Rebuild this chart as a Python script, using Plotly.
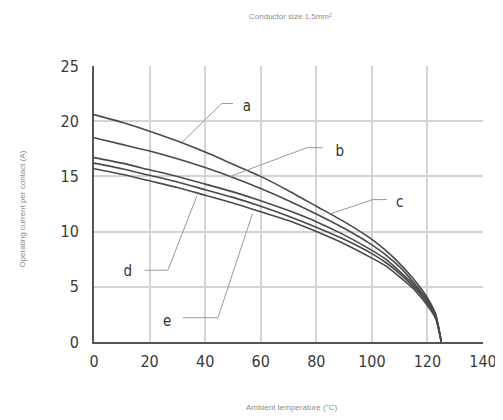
import plotly.graph_objects as go

temps = [0, 10, 20, 30, 40, 50, 60, 70, 80, 90, 100, 105, 110, 115, 120, 123, 125]
curve_a = [20.6, 19.9, 19.1, 18.2, 17.2, 16.1, 15.0, 13.7, 12.3, 10.9, 9.3, 8.3, 7.1, 5.7, 4.0, 2.5, 0]
curve_b = [18.5, 17.9, 17.3, 16.6, 15.8, 14.9, 13.9, 12.8, 11.6, 10.3, 8.8, 7.9, 6.8, 5.4, 3.8, 2.4, 0]
curve_c = [16.7, 16.2, 15.6, 15.0, 14.3, 13.6, 12.8, 11.9, 10.9, 9.7, 8.3, 7.5, 6.4, 5.2, 3.6, 2.3, 0]
curve_d = [16.2, 15.7, 15.1, 14.5, 13.8, 13.1, 12.3, 11.4, 10.4, 9.3, 8.0, 7.2, 6.2, 5.0, 3.5, 2.2, 0]
curve_e = [15.7, 15.2, 14.6, 14.0, 13.3, 12.6, 11.8, 11.0, 10.0, 8.9, 7.6, 6.9, 5.9, 4.8, 3.3, 2.1, 0]
curves = {"a": curve_a, "b": curve_b, "c": curve_c, "d": curve_d, "e": curve_e}

# label leader lines (data coords) and label anchors
leader_a_x = [50, 46, 31.7]
leader_a_y = [21.6, 21.6, 18.1]
leader_b_x = [82.4, 76.6, 49]
leader_b_y = [17.6, 17.6, 15.0]
leader_c_x = [105.4, 100.4, 85]
leader_c_y = [12.9, 12.9, 11.6]
leader_d_x = [18.3, 26.6, 37]
leader_d_y = [6.5, 6.5, 13.2]
leader_e_x = [32, 44.6, 57]
leader_e_y = [2.2, 2.2, 11.6]
leaders = [(leader_a_x, leader_a_y), (leader_b_x, leader_b_y), (leader_c_x, leader_c_y),
           (leader_d_x, leader_d_y), (leader_e_x, leader_e_y)]
label_names = ["a", "b", "c", "d", "e"]
label_x = [55, 88.5, 110, 12.2, 26.3]
label_y = [21.3, 17.2, 12.6, 6.3, 1.8]

x_ticks = [0, 20, 40, 60, 80, 100, 120, 140]
y_ticks = [0, 5, 10, 15, 20, 25]

title_text = "Conductor size 1,5mm²"
x_title = "Ambient temperature (°C)"
y_title = "Operating current per contact (A)"

narrow = "DejaVu Sans Condensed, Liberation Sans Narrow, sans-serif"
small_font = dict(family="Liberation Sans, Arial, sans-serif", size=8, color="#8c8c8c")

fig = go.Figure()
for name, vals in curves.items():
    fig.add_trace(go.Scatter(x=temps, y=vals, mode="lines", name=name,
                             line=dict(color="#4a4a4a", width=1.6, shape="spline", smoothing=0.6),
                             showlegend=False, hoverinfo="skip"))
for lx, ly in leaders:
    fig.add_trace(go.Scatter(x=lx, y=ly, mode="lines", line=dict(color="#9a9a9a", width=1),
                             showlegend=False, hoverinfo="skip"))
fig.add_trace(go.Scatter(x=label_x, y=label_y, mode="text", text=label_names,
                         textfont=dict(family=narrow, size=15, color="#333"),
                         showlegend=False, hoverinfo="skip"))

tick_font = dict(family=narrow, size=16, color="#3a3a3a")
fig.update_layout(
    width=495, height=412,
    margin=dict(l=86, r=20, t=58, b=78, autoexpand=False),
    paper_bgcolor="white", plot_bgcolor="white",
    xaxis=dict(range=[0, 140], tickvals=x_ticks, ticktext=[str(v) for v in x_ticks],
               showgrid=True, gridcolor="#d4d4d4", gridwidth=1.5, automargin=False,
               showline=True, linecolor="#555", linewidth=2, ticks="", zeroline=False,
               tickfont=tick_font, ticklabelstandoff=4),
    yaxis=dict(range=[0, 25], tickvals=y_ticks, ticktext=[str(v) for v in y_ticks],
               showgrid=True, gridcolor="#d4d4d4", gridwidth=1.5, automargin=False,
               showline=True, linecolor="#555", linewidth=2, ticks="", zeroline=False,
               tickfont=tick_font, ticklabelstandoff=10),
    annotations=[
        dict(text=title_text, xref="paper", yref="paper", x=0.504, y=1.178, showarrow=False,
             xanchor="center", yanchor="middle", font=small_font),
        dict(text=x_title, xref="paper", yref="paper", x=0.51, y=-0.239, showarrow=False,
             xanchor="center", yanchor="middle", font=small_font),
        dict(text=y_title, xref="paper", yref="paper", x=-0.185, y=0.48, showarrow=False,
             xanchor="center", yanchor="middle", textangle=-90, font=small_font),
    ],
)

fig.write_html("out.html")
